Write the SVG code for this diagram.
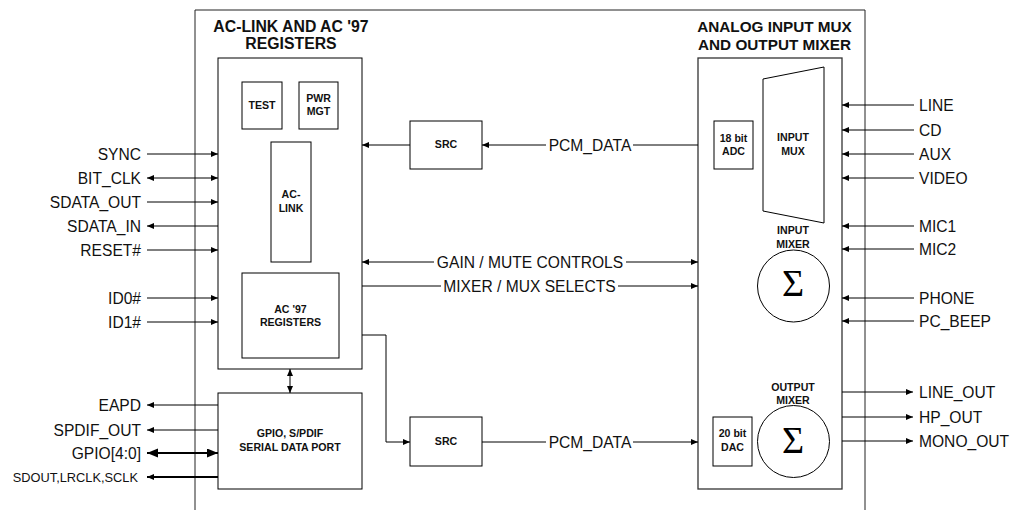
<svg xmlns="http://www.w3.org/2000/svg" width="1011" height="510" viewBox="0 0 1011 510">
<defs>
<marker id="ah" markerUnits="userSpaceOnUse" markerWidth="8" markerHeight="7" refX="7" refY="3" orient="auto-start-reverse">
<path d="M0,0 L7,3 L0,6 z" fill="#000"/>
</marker>
<marker id="ahb" markerUnits="userSpaceOnUse" markerWidth="12" markerHeight="10" refX="11" refY="4.5" orient="auto-start-reverse">
<path d="M0,0 L11,4.5 L0,9 z" fill="#000"/>
</marker>
<style>
.box{fill:#fff;stroke:#000;stroke-width:1}
.ln{fill:none;stroke:#000;stroke-width:1}
.thk{fill:none;stroke:#000;stroke-width:2}
.frame{fill:none;stroke:#222;stroke-width:1}
.lbl{font-family:"Liberation Sans",Arial,sans-serif;font-size:15.6px;fill:#111}
.ttl{font-family:"Liberation Sans",Arial,sans-serif;font-size:15.8px;font-weight:bold;fill:#111;text-anchor:middle}
.sm{font-family:"Liberation Sans",Arial,sans-serif;font-size:10.6px;font-weight:bold;fill:#111;text-anchor:middle}
.sig{font-family:"Liberation Serif","Times New Roman",serif;font-size:38px;fill:#000;text-anchor:middle}
.r{text-anchor:end}
.m{text-anchor:middle}
</style>
</defs>
<rect width="1011" height="510" fill="#fff"/>

<g id="frame">
<path class="frame" d="M195,510 V10 H865 V510"/>
<text class="ttl" x="291" y="32">AC-LINK AND AC '97</text>
<text class="ttl" x="291" y="49">REGISTERS</text>
<text class="ttl" x="774.5" y="32" style="font-size:15.3px">ANALOG INPUT MUX</text>
<text class="ttl" x="774.5" y="50" style="font-size:15.3px">AND OUTPUT MIXER</text>
</g>

<g id="aclink-block">
<rect class="box" x="218" y="58" width="144" height="311"/>
</g>
<g id="test"><rect class="box" x="242" y="82" width="40" height="47"/><text class="sm" x="262" y="109">TEST</text></g>
<g id="pwrmgt"><rect class="box" x="299" y="82" width="39" height="47"/><text class="sm" x="318.5" y="102">PWR</text><text class="sm" x="318.5" y="115">MGT</text></g>
<g id="aclink"><rect class="box" x="271" y="142" width="40" height="120"/><text class="sm" x="291" y="198">AC-</text><text class="sm" x="291" y="212">LINK</text></g>
<g id="ac97reg"><rect class="box" x="242" y="273" width="97" height="85"/><text class="sm" x="290.5" y="313">AC '97</text><text class="sm" x="290.5" y="326">REGISTERS</text></g>
<g id="gpio"><rect class="box" x="218" y="393" width="144" height="96"/><text class="sm" x="290" y="437">GPIO, S/PDIF</text><text class="sm" x="290" y="451">SERIAL DATA PORT</text></g>

<g id="src-top"><rect class="box" x="410" y="121" width="72" height="48"/><text class="sm" x="446" y="148">SRC</text></g>
<g id="src-bot"><rect class="box" x="410" y="417" width="72" height="49"/><text class="sm" x="446" y="445">SRC</text></g>

<g id="mixer-block"><rect x="698" y="58" width="144" height="431" fill="#fff" stroke="#333" stroke-width="1.3"/></g>
<g id="adc"><rect class="box" x="714" y="121" width="39" height="48"/><text class="sm" x="733.5" y="142">18 bit</text><text class="sm" x="733.5" y="155">ADC</text></g>
<g id="inputmux"><path class="box" d="M763,79 L824,67 L824,223 L763,211 Z"/><text class="sm" x="793" y="141">INPUT</text><text class="sm" x="793" y="155">MUX</text></g>
<g id="inputmixer"><text class="sm" x="793" y="234">INPUT</text><text class="sm" x="793" y="248">MIXER</text><circle class="box" cx="793.5" cy="286" r="36"/><text class="sig" x="793" y="296">Σ</text></g>
<g id="outputmixer"><text class="sm" x="793" y="391">OUTPUT</text><text class="sm" x="793" y="404">MIXER</text><circle class="box" cx="793.5" cy="441.5" r="36"/><text class="sig" x="793" y="453">Σ</text></g>
<g id="dac"><rect class="box" x="713" y="417" width="39" height="49"/><text class="sm" x="732.5" y="437">20 bit</text><text class="sm" x="732.5" y="451">DAC</text></g>

<g id="connectors">
<!-- left AC-link pins -->
<line class="ln" x1="147" y1="154" x2="218" y2="154" marker-end="url(#ah)"/>
<line class="ln" x1="147" y1="178" x2="218" y2="178" marker-start="url(#ah)" marker-end="url(#ah)"/>
<line class="ln" x1="147" y1="202" x2="218" y2="202" marker-end="url(#ah)"/>
<line class="ln" x1="218" y1="226" x2="147" y2="226" marker-end="url(#ah)"/>
<line class="ln" x1="147" y1="250" x2="218" y2="250" marker-end="url(#ah)"/>
<line class="ln" x1="147" y1="298" x2="218" y2="298" marker-end="url(#ah)"/>
<line class="ln" x1="147" y1="322" x2="218" y2="322" marker-end="url(#ah)"/>
<!-- gpio pins -->
<line class="ln" x1="218" y1="405" x2="147" y2="405" marker-end="url(#ah)"/>
<line class="ln" x1="218" y1="430" x2="147" y2="430" marker-end="url(#ah)"/>
<line class="thk" x1="147" y1="453" x2="218" y2="453" marker-start="url(#ahb)" marker-end="url(#ahb)"/>
<line class="thk" x1="218" y1="477" x2="147" y2="477" marker-end="url(#ah)"/>
<!-- registers to gpio -->
<line class="ln" x1="290" y1="369" x2="290" y2="393" marker-start="url(#ah)" marker-end="url(#ah)"/>
<!-- PCM top -->
<line class="ln" x1="410" y1="145" x2="362" y2="145" marker-end="url(#ah)"/>
<line class="ln" x1="698" y1="145" x2="633" y2="145"/>
<line class="ln" x1="546" y1="145" x2="482" y2="145" marker-end="url(#ah)"/>
<!-- gain/mute -->
<line class="ln" x1="434" y1="262" x2="362" y2="262" marker-end="url(#ah)"/>
<line class="ln" x1="626" y1="262" x2="698" y2="262" marker-end="url(#ah)"/>
<!-- mixer/mux selects -->
<line class="ln" x1="362" y1="286" x2="441" y2="286"/>
<line class="ln" x1="618" y1="286" x2="698" y2="286" marker-end="url(#ah)"/>
<!-- registers to bottom src -->
<path class="ln" d="M362,335 H386 V442 H410" marker-end="url(#ah)"/>
<!-- PCM bottom -->
<line class="ln" x1="482" y1="442" x2="546" y2="442"/>
<line class="ln" x1="633" y1="442" x2="698" y2="442" marker-end="url(#ah)"/>
<!-- right inputs -->
<line class="ln" x1="914" y1="105" x2="842" y2="105" marker-end="url(#ah)"/>
<line class="ln" x1="914" y1="130" x2="842" y2="130" marker-end="url(#ah)"/>
<line class="ln" x1="914" y1="154" x2="842" y2="154" marker-end="url(#ah)"/>
<line class="ln" x1="914" y1="178" x2="842" y2="178" marker-end="url(#ah)"/>
<line class="ln" x1="914" y1="226" x2="842" y2="226" marker-end="url(#ah)"/>
<line class="ln" x1="914" y1="249" x2="842" y2="249" marker-end="url(#ah)"/>
<line class="ln" x1="914" y1="298" x2="842" y2="298" marker-end="url(#ah)"/>
<line class="ln" x1="914" y1="321" x2="842" y2="321" marker-end="url(#ah)"/>
<!-- right outputs -->
<line class="ln" x1="842" y1="392" x2="913" y2="392" marker-end="url(#ah)"/>
<line class="ln" x1="842" y1="417" x2="913" y2="417" marker-end="url(#ah)"/>
<line class="ln" x1="842" y1="441" x2="913" y2="441" marker-end="url(#ah)"/>
</g>

<g id="labels">
<text class="lbl r" x="141" y="159.5">SYNC</text>
<text class="lbl r" x="141" y="183.5">BIT_CLK</text>
<text class="lbl r" x="141" y="207.5">SDATA_OUT</text>
<text class="lbl r" x="141" y="231.5">SDATA_IN</text>
<text class="lbl r" x="141" y="255.5">RESET#</text>
<text class="lbl r" x="141" y="303.5">ID0#</text>
<text class="lbl r" x="141" y="327.5">ID1#</text>
<text class="lbl r" x="141" y="410.5">EAPD</text>
<text class="lbl r" x="141" y="435.5">SPDIF_OUT</text>
<text class="lbl r" x="141" y="458.5">GPIO[4:0]</text>
<text class="lbl r" x="138" y="482" style="font-size:12.8px">SDOUT,LRCLK,SCLK</text>
<text class="lbl m" x="590" y="150.5">PCM_DATA</text>
<text class="lbl m" x="530" y="267.5">GAIN / MUTE CONTROLS</text>
<text class="lbl m" x="529.5" y="291.5">MIXER / MUX SELECTS</text>
<text class="lbl m" x="590" y="447.5">PCM_DATA</text>
<text class="lbl" x="919" y="110.5">LINE</text>
<text class="lbl" x="919" y="135.5">CD</text>
<text class="lbl" x="919" y="159.5">AUX</text>
<text class="lbl" x="919" y="183.5">VIDEO</text>
<text class="lbl" x="919" y="231.5">MIC1</text>
<text class="lbl" x="919" y="254.5">MIC2</text>
<text class="lbl" x="919" y="303.5">PHONE</text>
<text class="lbl" x="919" y="326.5">PC_BEEP</text>
<text class="lbl" x="919" y="397.5">LINE_OUT</text>
<text class="lbl" x="919" y="422.5">HP_OUT</text>
<text class="lbl" x="919" y="446.5">MONO_OUT</text>
</g>
</svg>
